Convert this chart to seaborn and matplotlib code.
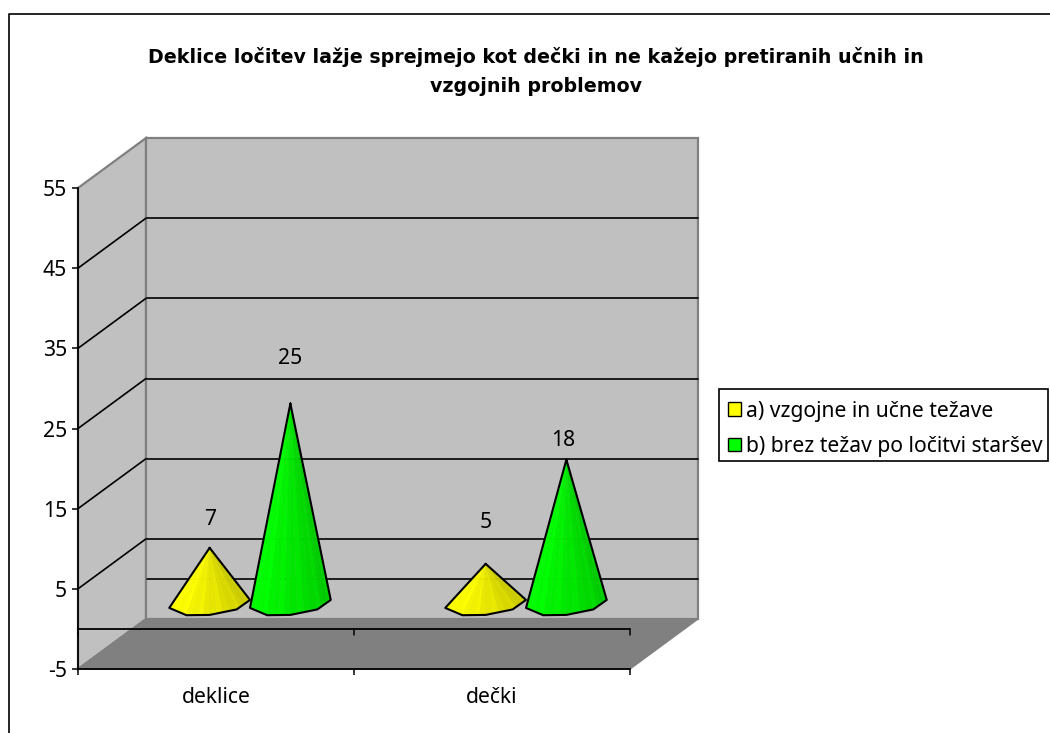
import numpy as np
import pandas as pd
import matplotlib
matplotlib.use("Agg")
import matplotlib.pyplot as plt
from matplotlib.patches import Patch, Polygon, Rectangle
import seaborn as sns

# ---- data ----
categories = ["deklice", "dečki"]
series_a_name = "a) vzgojne in učne težave"
series_b_name = "b) brez težav po ločitvi staršev"
series_a = [7, 5]
series_b = [25, 18]
y_ticks = [-5, 5, 15, 25, 35, 45, 55]
title = ("Deklice ločitev lažje sprejmejo kot dečki in ne kažejo pretiranih učnih in\n"
         "vzgojnih problemov")

# ---- style ----
FONT = "Noto Sans"
YELLOW = np.array([1.0, 1.0, 0.0])
GREEN = np.array([0.0, 1.0, 0.0])
label_lift_px = [[28, 41], [45, 19]]   # label gap above each cone tip
label_shift_px = [[0, 0], [0, -3]]

sns.set_theme(style="white")
plt.rcParams["font.family"] = [FONT, "DejaVu Sans"]

W, H = 1050, 733
fig = plt.figure(figsize=(W / 100, H / 100), dpi=100, facecolor="white")
ax = fig.add_axes([78 / W, (H - 669) / H, (630 - 78) / W, (669 - 188) / H])

df = pd.DataFrame({
    "cat": categories * 2,
    "series": [series_a_name] * 2 + [series_b_name] * 2,
    "value": series_a + series_b,
})
sns.barplot(data=df, x="cat", y="value", hue="series", order=categories,
            hue_order=[series_a_name, series_b_name], width=0.585, dodge=True,
            errorbar=None, ax=ax, legend=False,
            palette=[tuple(YELLOW), tuple(GREEN)])
ax.set_xlim(-0.5, 1.5)
ax.set_ylim(-5, 55)

px_x = 2.0 / (630 - 78)         # data units per pixel
px_y = 60.0 / (669 - 188)
DX, DY = 68 * px_x, 50 * px_y   # depth of the 3D box

x0, x1, y0, y1 = -0.5, 1.5, -5, 55
WALL = "#C0C0C0"
FLOOR = "#808080"
EDGE = "#808080"
common = dict(clip_on=False)
# walls and floor
ax.add_patch(Polygon([(x0, y0), (x0 + DX, y0 + DY), (x0 + DX, y1 + DY), (x0, y1)],
                     fc=WALL, ec=EDGE, lw=1.6, zorder=0.5, **common))
ax.add_patch(Polygon([(x0 + DX, y0 + DY), (x1 + DX, y0 + DY), (x1 + DX, y1 + DY), (x0 + DX, y1 + DY)],
                     fc=WALL, ec=EDGE, lw=1.6, zorder=0.6, **common))
ax.add_patch(Polygon([(x0, y0), (x0 + DX, y0 + DY), (x1 + DX, y0 + DY), (x1, y0)],
                     fc=FLOOR, ec=FLOOR, lw=1.0, zorder=0.7, **common))

# gridlines
for v in [0] + y_ticks[1:-1]:
    ax.plot([x0 + DX + 0.004, x1 + DX], [v + DY, v + DY], color="black", lw=1.2, zorder=0.8, **common)
for v in y_ticks[1:-1]:
    ax.plot([x0, x0 + DX], [v, v + DY], color="black", lw=1.2, zorder=0.8, **common)

# value-zero line of the front plane with its ticks
ax.plot([x0, x1], [0, 0], color="black", lw=1.3, zorder=1.0, **common)
for tx in (x0, 0.5, x1):
    ax.plot([tx, tx], [0, -0.7], color="black", lw=1.1, zorder=1.0, **common)

# Turn the seaborn bars into cones
bars = [b for b in ax.patches if isinstance(b, Rectangle)]
ys_r = 11 * px_y
tilt = 4 * px_y
base_y = DY / 2
outline_deg = np.array([0, 55, 90, 132, 180.0])
sub = 4
series_vals = [series_a, series_b]
series_cols = [YELLOW, GREEN]
for s in range(2):
    for c in range(2):
        bar = bars[s * 2 + c]
        cx = bar.get_x() + bar.get_width() / 2 + DX / 2
        R = bar.get_width() / 2
        tip_y = bar.get_height() + DY / 2
        ang = np.radians(outline_deg)
        kx = cx - R * np.cos(ang)
        ky = base_y - ys_r * np.sin(ang) - tilt * np.cos(ang)
        idx = np.arange(0, len(kx) - 1 + 1e-9, 1 / sub)
        bx = np.interp(idx, np.arange(len(kx)), kx)
        by = np.interp(idx, np.arange(len(ky)), ky)
        n_facets = len(bx) - 1
        for i in range(n_facets):
            t = i / (n_facets - 1)
            shade = 1.0 - 0.22 * t ** 1.2 + (0.03 if i % 3 == 0 else 0)
            col = np.clip(series_cols[s] * shade, 0, 1)
            ax.add_patch(Polygon([(cx, tip_y), (bx[i], by[i]), (bx[i + 1], by[i + 1])],
                                 fc=col, ec=col, lw=0.3, zorder=2 + s + c * 0.1, **common))
        ax.plot(np.r_[cx, kx, cx], np.r_[tip_y, ky, tip_y], color="black", lw=1.5,
                solid_joinstyle="round", zorder=2.05 + s + c * 0.1, **common)
        ax.annotate(str(series_vals[s][c]), (cx, tip_y),
                    xytext=(label_shift_px[s][c], label_lift_px[s][c]), textcoords="offset pixels",
                    ha="center", va="center", fontsize=15.2, color="black", zorder=6)

for b in bars:
    b.set_visible(False)

# axes
for side in ("top", "right"):
    ax.spines[side].set_visible(False)
for side in ("left", "bottom"):
    ax.spines[side].set_visible(True)
    ax.spines[side].set_color("black")
    ax.spines[side].set_linewidth(1.3)
    ax.spines[side].set_zorder(1.5)
ax.patch.set_alpha(0)
ax.set_xlabel("")
ax.set_ylabel("")
ax.set_yticks(y_ticks)
ax.set_yticklabels([str(v) for v in y_ticks])
ax.tick_params(axis="y", left=True, length=4.3, width=1.1, color="black", pad=3.6, labelsize=15.2, labelcolor="black")
ax.set_xticks([0, 1])
ax.set_xticklabels(categories)
ax.tick_params(axis="x", which="major", bottom=False, length=0, pad=13, labelsize=15.2, labelcolor="black")
ax.set_xticks([x0, 0.5, x1], minor=True)
ax.tick_params(axis="x", which="minor", bottom=True, length=4.3, width=1.1, color="black")

# title
fig.text(536 / W, 1 - 71.5 / H, title, ha="center", va="center", fontsize=13.7,
         fontweight="bold", color="black", linespacing=1.62, family="DejaVu Sans")

# legend frame and legend
fig.add_artist(Rectangle((719 / W, 1 - 461 / H), 329 / W, 72 / H, transform=fig.transFigure,
                         fc="white", ec="black", lw=1.2))
handles = [Patch(fc=tuple(YELLOW), ec="black", lw=1.0, label=series_a_name),
           Patch(fc=tuple(GREEN), ec="black", lw=1.0, label=series_b_name)]
leg = fig.legend(handles=handles, loc="upper left", bbox_to_anchor=(727.5 / W, 1 - 400.5 / H),
                 borderaxespad=0, frameon=False,
                 fontsize=15.2, handlelength=0.62, handleheight=0.62, handletextpad=0.28,
                 labelspacing=0.68, borderpad=0, labelcolor="black")
leg.set_zorder(10)

# outer chart border (runs off the picture on the right and bottom)
fig.add_artist(plt.Line2D([9 / W, 9 / W, 1.0], [0, 1 - 14 / H, 1 - 14 / H], color="black", lw=1.2,
                          transform=fig.transFigure))

fig.savefig("out.png", dpi=100, facecolor="white")
